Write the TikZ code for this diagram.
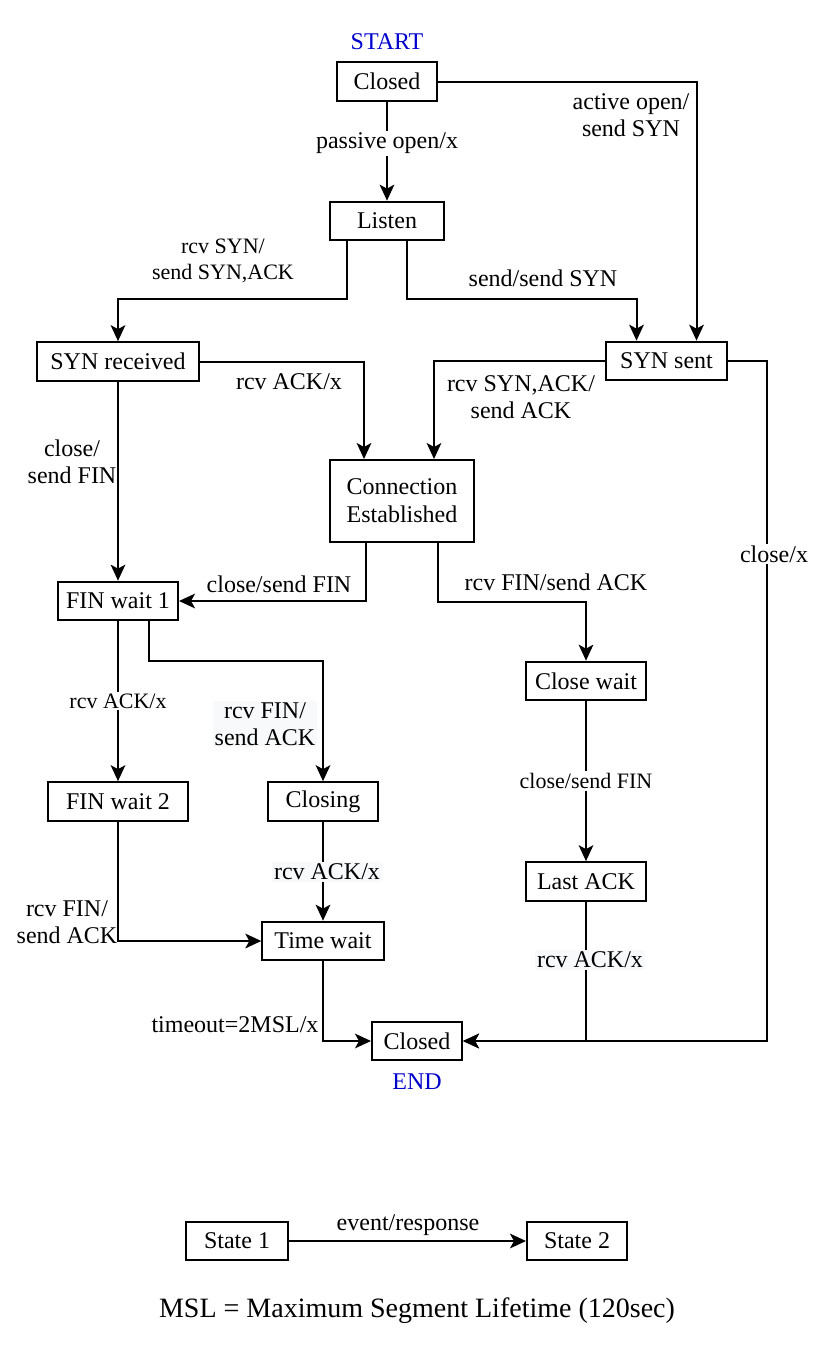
\documentclass[tikz,border=0pt]{standalone}
\usepackage{fontspec}
\setmainfont{Liberation Serif}
\usepackage{xcolor}
\usetikzlibrary{arrows.meta, calc}

\definecolor{tagblue}{RGB}{0,0,204}
\definecolor{lblbg}{RGB}{248,249,250}

\begin{document}
\begin{tikzpicture}[
    x=0.75pt, y=-0.75pt,
    state/.style={draw, line width=1.5pt, align=center, inner sep=0pt,
                  minimum height=29pt, font=\fontsize{18}{21}\selectfont},
    arrow/.style={-{Stealth[length=12pt, width=11pt, inset=3pt]}, line width=1.5pt},
    lbl/.style={align=center, inner sep=1.5pt, font=\fontsize{18}{20}\selectfont},
    smalllbl/.style={lbl, font=\fontsize{16.5}{20}\selectfont},
    tag/.style={text=tagblue, font=\fontsize{18}{21}\selectfont},
]
    \useasboundingbox (0,0) rectangle (826,1354);

    \node[state, minimum width=75pt] (closed) at (387,81.5) {Closed};
    \node[tag] (start) at (387,42) {START};
    \node[state, minimum width=85.5pt] (listen) at (387,221) {Listen};
    \node[state, minimum width=121.5pt] (synrcvd) at (118,361.5) {SYN received};
    \node[state, minimum width=91pt] (synsent) at (666.5,361) {SYN sent};
    \node[state, minimum width=108pt, minimum height=61.5pt] (estab) at (402,501) {Connection\\Established};
    \node[state, minimum width=90pt] (finwait1) at (118,601) {FIN wait 1};
    \node[state, minimum width=90pt] (closewait) at (586,681) {Close wait};
    \node[state, minimum width=105pt] (finwait2) at (118,801.5) {FIN wait 2};
    \node[state, minimum width=82.5pt] (closing) at (323,801.5) {Closing};
    \node[state, minimum width=90pt] (lastack) at (586,881.5) {Last ACK};
    \node[state, minimum width=91pt] (timewait) at (323,941) {Time wait};
    \node[state, minimum width=67.5pt] (closedend) at (417,1041) {Closed};
    \node[tag] (end) at (417,1082) {END};

    \node[state, minimum width=76.5pt] (state1) at (237,1241) {State 1};
    \node[state, minimum width=75pt] (state2) at (577,1241) {State 2};

    \draw[arrow] (closed) -- (listen);
    \draw[arrow] (closed.east) -| ($(synsent.north)+(30,0)$);
    \draw[arrow] ($(listen.south)+(-40,0)$) -- ++(0,58) -| (synrcvd.north);
    \draw[arrow] ($(listen.south)+(20,0)$) -- ++(0,58) -| ($(synsent.north)+(-30,0)$);
    \draw[arrow] (synrcvd.east) -| ($(estab.north)+(-38,0)$);
    \draw[arrow] (synsent.west) -| ($(estab.north)+(32,0)$);
    \draw[arrow] (synrcvd) -- (finwait1);
    \draw[arrow] ($(estab.south)+(-36,0)$) |- (finwait1.east);
    \draw[arrow] ($(estab.south)+(36,0)$) -- ++(0,59) -| (closewait.north);
    \draw[arrow] (synsent.east) -- ++(39,0) |- (closedend.east);
    \draw[arrow] (finwait1) -- (finwait2);
    \draw[arrow] ($(finwait1.south)+(31,0)$) -- ++(0,40) -| (closing.north);
    \draw[arrow] (closing) -- (timewait);
    \draw[arrow] (finwait2.south) |- (timewait.west);
    \draw[arrow] (timewait.south) |- (closedend.west);
    \draw[arrow] (closewait) -- (lastack);
    \draw[arrow] (lastack.south) |- (closedend.east);
    \draw[arrow] (state1) -- (state2);

    \node[lbl, fill=white] (lpassive) at (387,143) {passive open/x};
    \node[lbl] (lactive) at (631,115) {active open/\\send SYN};
    \node[smalllbl] (lrcvsyn) at (223,261) {rcv SYN/\\send SYN,ACK};
    \node[lbl] (lsend) at (543,278) {send/send SYN};
    \node[lbl] (lrcvack) at (289,382) {rcv ACK/x};
    \node[lbl] (lrcvsynack) at (521,397) {rcv SYN,ACK/\\send ACK};
    \node[lbl] (lclose) at (72,462) {close/\\send FIN};
    \node[lbl] (lclosefin) at (279,584) {close/send FIN};
    \node[lbl] (lrcvfin) at (556,582) {rcv FIN/send ACK};
    \node[lbl, fill=white] (lclosex) at (774,554) {close/x};
    \node[smalllbl, fill=white] (lfinack) at (118,701) {rcv ACK/x};
    \node[lbl, fill=lblbg] (lfinfin) at (265,724) {rcv FIN/\\send ACK};
    \node[lbl, fill=lblbg] (lclosingack) at (327,872) {rcv ACK/x};
    \node[lbl] (lfin2fin) at (67,922) {rcv FIN/\\send ACK};
    \node[lbl] (ltimeout) at (235,1025) {timeout=2MSL/x};
    \node[smalllbl, fill=white] (lwaitfin) at (586,781) {close/send FIN};
    \node[lbl, fill=lblbg] (llastack) at (590,960) {rcv ACK/x};
    \node[lbl] (levent) at (408,1225) {event/response};

    \node[font=\fontsize{21}{25}\selectfont] (msl) at (417,1311) {MSL = Maximum Segment Lifetime (120sec)};
\end{tikzpicture}
\end{document}
